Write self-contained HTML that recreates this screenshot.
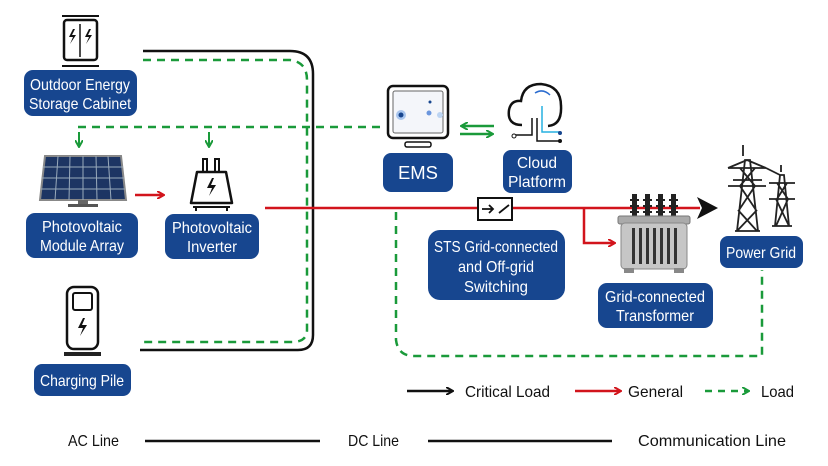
<!DOCTYPE html>
<html><head><meta charset="utf-8"><style>
html,body{margin:0;padding:0;background:#fff;}
svg{display:block;}
.lb{fill:#17468f;}
.t{font-family:"Liberation Sans",sans-serif;fill:#fff;font-size:16px;text-anchor:middle;}
.k{font-family:"Liberation Sans",sans-serif;fill:#111;font-size:16px;}
</style></head><body>
<svg width="828" height="466" viewBox="0 0 828 466" xmlns="http://www.w3.org/2000/svg">
<defs>
<marker id="ar" markerWidth="8" markerHeight="8" refX="6" refY="4" orient="auto" markerUnits="userSpaceOnUse"><path d="M0,0 L7,4 L0,8" fill="none" stroke="#d2141c" stroke-width="2"/></marker>
<marker id="ag" markerWidth="8" markerHeight="8" refX="6" refY="4" orient="auto" markerUnits="userSpaceOnUse"><path d="M0,0 L7,4 L0,8" fill="none" stroke="#1a9a3a" stroke-width="2"/></marker>
<marker id="ak" markerWidth="8" markerHeight="8" refX="6" refY="4" orient="auto" markerUnits="userSpaceOnUse"><path d="M0,0 L7,4 L0,8" fill="none" stroke="#111" stroke-width="2"/></marker>
</defs>
<path d="M143,51 H290 Q313,51 313,74 V335 Q313,350 298,350 H140" fill="none" stroke="#111" stroke-width="2.5"/>
<path d="M143,60 H290 Q307,62 307,80 V330 Q307,342 292,342 H140" fill="none" stroke="#1a9a3a" stroke-width="2.5" stroke-dasharray="8,6"/>
<path d="M78,127 H384" fill="none" stroke="#1a9a3a" stroke-width="2.5" stroke-dasharray="8,6"/>
<path d="M79,132 V146" stroke="#1a9a3a" stroke-width="2" marker-end="url(#ag)"/>
<path d="M209,132 V146" stroke="#1a9a3a" stroke-width="2" marker-end="url(#ag)"/>
<line x1="62" y1="16" x2="99" y2="16" stroke="#111" stroke-width="2"/>
<rect x="64" y="20" width="33" height="40" rx="3" fill="#fff" stroke="#111" stroke-width="2.5"/>
<line x1="80" y1="24" x2="80" y2="57" stroke="#111" stroke-width="1.5"/>
<path d="M73,29 l-4,8 h4 l-3,7 l6,-9 h-4 l3,-6z M89,29 l-4,8 h4 l-3,7 l6,-9 h-4 l3,-6z" fill="#111"/>
<line x1="62" y1="66" x2="99" y2="66" stroke="#111" stroke-width="2"/>
<rect class="lb" x="24" y="70" width="113" height="46" rx="9"/>
<text class="t" x="80" y="90" textLength="100" lengthAdjust="spacingAndGlyphs">Outdoor Energy</text><text class="t" x="80" y="109" textLength="102" lengthAdjust="spacingAndGlyphs">Storage Cabinet</text>
<path d="M45,156 H121 L126,200 H40 Z" fill="#1d3563" stroke="#888" stroke-width="2"/>
<g stroke="#9ab" stroke-width="1">
<line x1="43" y1="167" x2="123" y2="167"/><line x1="42" y1="178" x2="124" y2="178"/><line x1="41" y1="189" x2="125" y2="189"/>
<line x1="58" y1="156" x2="55" y2="200"/><line x1="70" y1="156" x2="69" y2="200"/><line x1="83" y1="156" x2="83" y2="200"/><line x1="96" y1="156" x2="97" y2="200"/><line x1="108" y1="156" x2="111" y2="200"/>
</g>
<rect x="78" y="200" width="10" height="5" fill="#666"/><rect x="68" y="204" width="30" height="3" fill="#555"/>
<rect class="lb" x="26" y="213" width="112" height="45" rx="9"/>
<text class="t" x="82" y="232" textLength="80" lengthAdjust="spacingAndGlyphs">Photovoltaic</text><text class="t" x="82" y="251" textLength="84" lengthAdjust="spacingAndGlyphs">Module Array</text>
<path d="M135,195 H163" stroke="#d2141c" stroke-width="2.5" marker-end="url(#ar)"/>
<rect x="203" y="159" width="4" height="13" fill="none" stroke="#111" stroke-width="2"/><rect x="215" y="159" width="4" height="13" fill="none" stroke="#111" stroke-width="2"/>
<path d="M197,172 H226 L232,203 H191 Z" fill="#fff" stroke="#111" stroke-width="2.5" stroke-linejoin="round"/>
<path d="M212,178 l-5,10 h5 l-3,8 l7,-11 h-5 l3,-7z" fill="#111"/>
<line x1="193" y1="207" x2="230" y2="207" stroke="#111" stroke-width="2"/>
<line x1="196" y1="207" x2="196" y2="211" stroke="#111" stroke-width="2"/><line x1="227" y1="207" x2="227" y2="211" stroke="#111" stroke-width="2"/>
<rect class="lb" x="165" y="214" width="94" height="45" rx="9"/>
<text class="t" x="212" y="233" textLength="80" lengthAdjust="spacingAndGlyphs">Photovoltaic</text><text class="t" x="212" y="252" textLength="50" lengthAdjust="spacingAndGlyphs">Inverter</text>
<path d="M265,208 H700" stroke="#d2141c" stroke-width="2.5"/>
<path d="M697,197 L718,208 L697,219 L702,208 Z" fill="#111"/>
<path d="M584,208 V243 H614" fill="none" stroke="#d2141c" stroke-width="2.5" marker-end="url(#ar)"/>
<rect x="478" y="198" width="34" height="22" fill="#fff" stroke="#111" stroke-width="2"/>
<path d="M482,209 H493 M489,205 L493,209 L489,213 M499,213 L509,205" fill="none" stroke="#111" stroke-width="1.8"/>
<path d="M396,212 V340 Q398,356 414,356 H762 V270" fill="none" stroke="#1a9a3a" stroke-width="2.5" stroke-dasharray="8,6"/>
<rect x="388" y="86" width="60" height="52" rx="5" fill="#fff" stroke="#111" stroke-width="2.5"/>
<rect x="393" y="91" width="50" height="42" rx="2" fill="#f4f6fa" stroke="#666" stroke-width="1"/>
<circle cx="401" cy="115" r="5" fill="#a9c6ee"/><circle cx="401" cy="115" r="2.5" fill="#17468f"/>
<circle cx="429" cy="113" r="2.5" fill="#6b96dd"/><circle cx="430" cy="102" r="1.5" fill="#17468f"/><circle cx="440" cy="115" r="3" fill="#bcd4f2"/>
<rect x="405" y="142" width="26" height="5" rx="2" fill="#fff" stroke="#111" stroke-width="1.5"/>
<rect class="lb" x="383" y="153" width="70" height="39" rx="8"/>
<text class="t" x="418" y="179" style="font-size:18px" textLength="40" lengthAdjust="spacingAndGlyphs">EMS</text>
<path d="M494,126 H462" stroke="#1a9a3a" stroke-width="2.5" marker-end="url(#ag)"/>
<path d="M460,134 H492" stroke="#1a9a3a" stroke-width="2.5" marker-end="url(#ag)"/>
<path d="M522,125 Q507,125 509,110 Q511,100 521,101 Q523,84 541,84 Q561,86 561,106 Q562,125 548,126" fill="none" stroke="#111" stroke-width="2.5"/>
<path d="M535,93 Q543,88 550,95" fill="none" stroke="#2b6ccf" stroke-width="1.5"/>
<path d="M532,118 V135 H515" fill="none" stroke="#111" stroke-width="1.5"/><circle cx="514" cy="136" r="2" fill="#fff" stroke="#111"/>
<path d="M537,118 V141 H560" fill="none" stroke="#111" stroke-width="1.5"/><circle cx="560" cy="141" r="2" fill="#111"/>
<path d="M542,106 V132 H559" fill="none" stroke="#27b0e0" stroke-width="1.5"/><circle cx="560" cy="133" r="2" fill="#17468f"/>
<rect class="lb" x="503" y="150" width="69" height="43" rx="8"/>
<text class="t" x="537" y="168" textLength="40" lengthAdjust="spacingAndGlyphs">Cloud</text><text class="t" x="537" y="187" textLength="58" lengthAdjust="spacingAndGlyphs">Platform</text>
<rect class="lb" x="428" y="230" width="137" height="70" rx="12"/>
<text class="t" x="496" y="252" textLength="124" lengthAdjust="spacingAndGlyphs">STS Grid-connected</text><text class="t" x="496" y="272" textLength="76" lengthAdjust="spacingAndGlyphs">and Off-grid</text><text class="t" x="496" y="292" textLength="64" lengthAdjust="spacingAndGlyphs">Switching</text>
<g fill="#222"><rect x="632" y="194" width="5" height="23"/><rect x="645" y="194" width="5" height="23"/><rect x="658" y="194" width="5" height="23"/><rect x="671" y="194" width="5" height="23"/></g>
<g stroke="#222" stroke-width="2"><path d="M630,200h9M630,206h9M630,212h9M643,200h9M643,206h9M643,212h9M656,200h9M656,206h9M656,212h9M669,200h9M669,206h9M669,212h9"/></g>
<rect x="618" y="216" width="72" height="8" rx="2" fill="#aaa" stroke="#777"/>
<rect x="621" y="223" width="66" height="46" rx="4" fill="#c6c6c6" stroke="#888"/>
<g fill="#333"><rect x="632" y="228" width="3" height="36"/><rect x="639" y="228" width="3" height="36"/><rect x="646" y="228" width="3" height="36"/><rect x="653" y="228" width="3" height="36"/><rect x="660" y="228" width="3" height="36"/><rect x="667" y="228" width="3" height="36"/><rect x="674" y="228" width="3" height="36"/></g>
<rect x="624" y="268" width="10" height="5" fill="#888"/><rect x="674" y="268" width="10" height="5" fill="#888"/>
<rect class="lb" x="598" y="283" width="115" height="45" rx="9"/>
<text class="t" x="655" y="302" textLength="100" lengthAdjust="spacingAndGlyphs">Grid-connected</text><text class="t" x="655" y="321" textLength="78" lengthAdjust="spacingAndGlyphs">Transformer</text>
<g fill="none" stroke="#222" stroke-width="1.8">
<path d="M743,145 V156 M737,231 L745,160 H750 L758,231 M728,168 H766 L747,160 L728,168 M728,186 H766 M733,180 L762,180 M740,168 L755,186 M755,168 L740,186 M740,186 L756,210 M755,186 L739,210 M738,210 L757,231 M757,210 L737,231 M735,231 H760"/>
<path d="M781,165 V172 M775,226 L780,175 H784 L789,226 M769,183 H795 M769,199 H795 M777,183 L788,199 M787,183 L777,199 M776,199 L789,226 M788,199 L776,226 M772,226 H792 M766,168 L780,175"/>
</g>
<rect class="lb" x="720" y="236" width="83" height="32" rx="8"/>
<text class="t" x="761" y="258" textLength="70" lengthAdjust="spacingAndGlyphs">Power Grid</text>
<rect x="67" y="287" width="31" height="62" rx="7" fill="#fff" stroke="#111" stroke-width="2.5"/>
<rect x="73" y="293" width="19" height="17" rx="2" fill="#fff" stroke="#111" stroke-width="2"/>
<path d="M83,318 l-5,10 h5 l-3,8 l7,-11 h-5 l3,-7z" fill="#111"/>
<rect x="64" y="352" width="37" height="4" fill="#222"/>
<rect class="lb" x="34" y="364" width="97" height="32" rx="8"/>
<text class="t" x="82" y="386" textLength="84" lengthAdjust="spacingAndGlyphs">Charging Pile</text>
<path d="M407,391 H452" stroke="#111" stroke-width="2.5" marker-end="url(#ak)"/>
<text class="k" x="465" y="397" textLength="85" lengthAdjust="spacingAndGlyphs">Critical Load</text>
<path d="M575,391 H620" stroke="#d2141c" stroke-width="2.5" marker-end="url(#ar)"/>
<text class="k" x="628" y="397" textLength="55" lengthAdjust="spacingAndGlyphs">General</text>
<path d="M705,391 H748" stroke="#1a9a3a" stroke-width="2.5" stroke-dasharray="7,6" marker-end="url(#ag)"/>
<text class="k" x="761" y="397" textLength="33" lengthAdjust="spacingAndGlyphs">Load</text>
<text class="k" x="68" y="446" textLength="51" lengthAdjust="spacingAndGlyphs">AC Line</text>
<path d="M145,441 H320" stroke="#111" stroke-width="2.5"/>
<text class="k" x="348" y="446" textLength="51" lengthAdjust="spacingAndGlyphs">DC Line</text>
<path d="M428,441 H612" stroke="#111" stroke-width="2.5"/>
<text class="k" x="638" y="446" textLength="148" lengthAdjust="spacingAndGlyphs">Communication  Line</text>
</svg>
</body></html>
